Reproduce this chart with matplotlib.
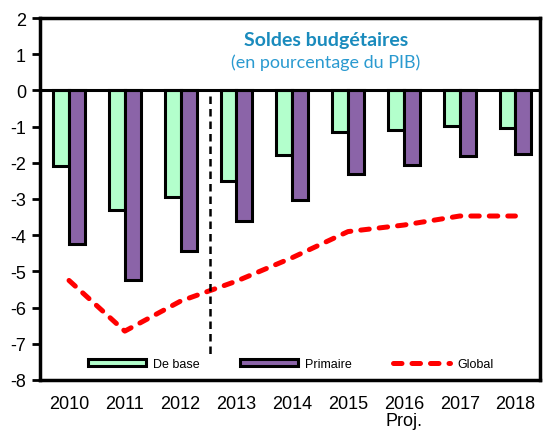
import matplotlib
matplotlib.use("Agg")
import matplotlib.pyplot as plt
import numpy as np

years = ["2010", "2011", "2012", "2013", "2014", "2015", "2016", "2017", "2018"]
tick_labels = ["2010", "2011", "2012", "2013", "2014", "2015", "2016\nProj.", "2017", "2018"]
de_base = [-2.1, -3.3, -2.95, -2.5, -1.78, -1.15, -1.1, -0.97, -1.03]
primaire = [-4.25, -5.25, -4.45, -3.62, -3.03, -2.32, -2.05, -1.82, -1.77]
global_ = [-5.25, -6.65, -5.82, -5.27, -4.62, -3.9, -3.72, -3.47, -3.47]
proj_split = 2.52

plt.rcParams['font.family'] = ['Liberation Sans', 'DejaVu Sans']

fig = plt.figure(figsize=(5.44, 4.31), dpi=100)
ax = fig.add_axes([40/544, 1-381/431, 500/544, 362/431])

x = np.arange(len(years))
w = 0.285
b1 = ax.bar(x - w/2, de_base, w, color="#b3ffcc", edgecolor="black", linewidth=2.2,
            label="De base", zorder=2)
b2 = ax.bar(x + w/2, primaire, w, color="#8b64a8", edgecolor="black", linewidth=2.2,
            label="Primaire", zorder=2)
ln, = ax.plot(x, global_, color="#ff0000", linewidth=3.6, linestyle=(0, (1.7, 2.0)),
              dash_capstyle='round', label="Global", zorder=3)

ax.axhline(0, color="black", linewidth=2.2, zorder=4)
ax.plot([proj_split, proj_split], [-0.15, -7.35], color="black", linewidth=1.8,
        linestyle=(0, (3, 2)), zorder=3)

ax.set_xlim(-0.52, 8.44)
ax.set_ylim(-8, 2)
ax.set_yticks(range(-8, 3))
ax.set_yticklabels([str(v) for v in range(-8, 3)], fontsize=13)
ax.set_xticks(x)
ax.set_xticklabels(tick_labels, fontsize=13, linespacing=0.95)
ax.tick_params(axis='x', length=0, pad=11)
ax.tick_params(axis='y', length=6, width=2, pad=4, direction='out')

for s in ax.spines.values():
    s.set_linewidth(2.5)

ax.text(0.572, 0.94, "Soldes budgétaires", transform=ax.transAxes, ha='center', va='center',
        fontsize=14, fontweight='bold', color="#1a8bbd", family=['Lato', 'DejaVu Sans'])
ax.text(0.572, 0.88, "(en pourcentage du PIB)", transform=ax.transAxes, ha='center', va='center',
        fontsize=13, color="#2a9ad0", family=['Lato', 'DejaVu Sans'])

leg = ax.legend([b1, b2, ln], ["De base", "Primaire", "Global"],
                loc='center left', bbox_to_anchor=(0.096, 0.044), ncol=3, frameon=False,
                fontsize=9, handlelength=4.6, handleheight=0.45, handletextpad=0.6,
                columnspacing=3.25, borderpad=0, borderaxespad=0)

fig.savefig("out.png", dpi=100)
